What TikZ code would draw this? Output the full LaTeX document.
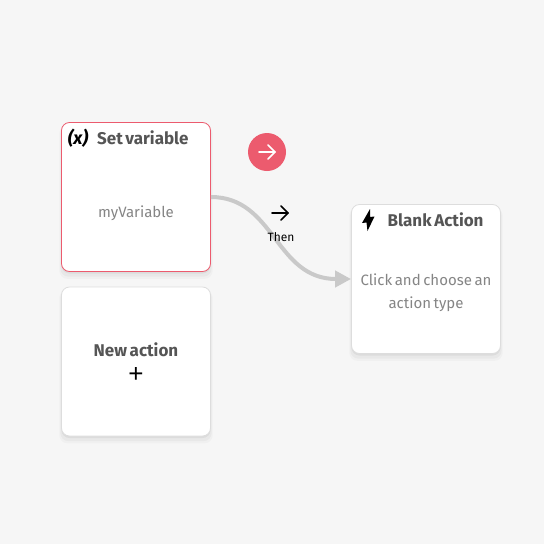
\documentclass[tikz,border=0pt]{standalone}
\usepackage{fontspec}
\setmainfont[WordSpace=0.65]{Fira Sans}
\newfontfamily\plusfont{Liberation Sans}
\usetikzlibrary{arrows.meta,shadows}

\definecolor{canvasgray}{HTML}{F6F6F6}
\definecolor{cardline}{HTML}{DDDDDD}
\definecolor{titlegray}{HTML}{555555}
\definecolor{bodygray}{HTML}{858585}
\definecolor{linkgray}{HTML}{C9C9C9}
\definecolor{accentred}{HTML}{EC5B6E}

\tikzset{
  softshadow/.style={
    general shadow={shadow yshift=-5pt,shadow scale=1.03,fill=black,opacity=.025},
    general shadow={shadow yshift=-4pt,shadow scale=1.015,fill=black,opacity=.03},
    general shadow={shadow yshift=-2pt,fill=black,opacity=.05}},
  card/.style={draw=cardline,line width=0.8pt,fill=white,rounded corners=8pt,
    minimum width=149pt,minimum height=149pt,inner sep=0pt,softshadow},
  cardtitle/.style={text=titlegray,font=\fontsize{17}{19}\selectfont\bfseries,inner sep=0pt},
  cardbody/.style={text=bodygray,font=\fontsize{15}{23}\selectfont,align=center,inner sep=0pt},
  iconarrow/.style={line width=1.7pt,line cap=round,line join=round}
}

\begin{document}
\begin{tikzpicture}[x=1pt,y=-1pt]
  \useasboundingbox[fill=canvasgray] (0,0) rectangle (544,544);

  \node[card,draw=accentred] (setvar) at (136,197) {};
  \node[card] (newaction) at (136,361.5) {};
  \node[card] (blank) at (426,279) {};

  % link between the two cards
  \draw[linkgray,line width=4pt,-{Triangle[length=16pt,width=16pt]}]
    (setvar.east) .. controls (275,197) and (275,279) .. (blank.west);

  % set variable
  \node[text=black,font=\fontsize{18}{20}\selectfont\bfseries\itshape,inner sep=0pt] (xicon) at (78,138) {(x)};
  \node[cardtitle,anchor=west] (settitle) at (97,137.8) {Set variable};
  \node[cardbody] (setbody) at (136,213) {myVariable};

  % new action
  \node[cardtitle] (newtitle) at (136,349.8) {New action};
  \node[text=black,font=\fontsize{26}{28}\plusfont\selectfont,inner sep=0pt] (newplus) at (136,374.5) {+};

  % blank action
  \fill[black] (370,209) -- (362,223) -- (366.5,222.5) -- (367.5,231) -- (374.5,216.5) -- (370,217) -- cycle;
  \node[cardtitle,anchor=west] (blanktitle) at (387.5,219.8) {Blank Action};
  \node[cardbody] (blankbody) at (426,293) {Click and choose an\\action type};

  % red button
  \node[circle,fill=accentred,minimum size=38pt,inner sep=0pt] (runbtn) at (267,152) {};
  \draw[iconarrow,white] ([xshift=-8pt]runbtn.center) -- ([xshift=8pt]runbtn.center);
  \draw[iconarrow,white] ([shift={(1,-7)}]runbtn.center) -- ([xshift=8pt]runbtn.center) -- ([shift={(1,7)}]runbtn.center);

  % then label
  \coordinate (thenicon) at (280,213);
  \draw[iconarrow,black] ([xshift=-8pt]thenicon) -- ([xshift=8pt]thenicon);
  \draw[iconarrow,black] ([shift={(1,-7)}]thenicon) -- ([xshift=8pt]thenicon) -- ([shift={(1,7)}]thenicon);
  \node[text=black,font=\fontsize{12}{13}\selectfont,inner sep=0pt] (thenlabel) at (281,237) {Then};
\end{tikzpicture}
\end{document}
